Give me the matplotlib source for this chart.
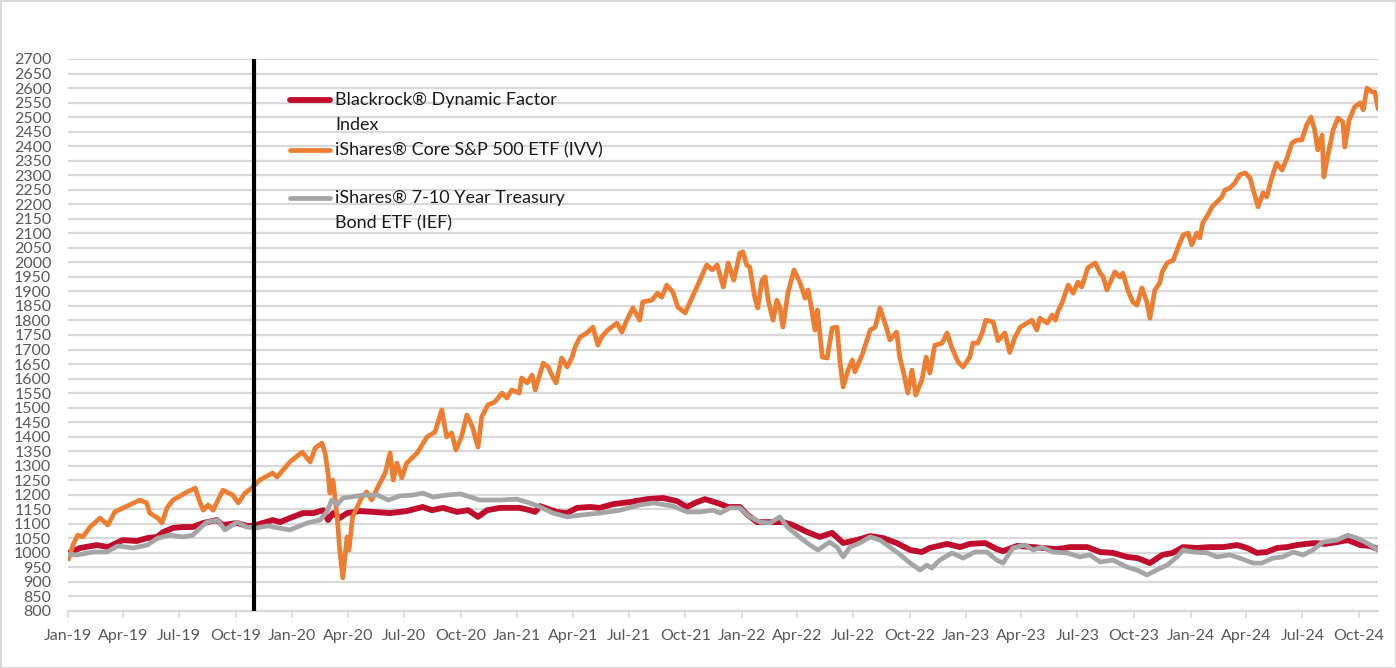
import matplotlib
matplotlib.use('Agg')
import matplotlib.pyplot as plt
import matplotlib.dates as mdates
import pandas as pd

plt.rcParams['font.family'] = ['Lato', 'DejaVu Sans']

# iShares Core S&P 500 ETF (IVV), growth of 1000
ivv_dates = [
    '2019-01-02', '2019-01-09', '2019-01-17', '2019-01-25', '2019-02-06', '2019-02-22', '2019-03-07', '2019-03-18',
    '2019-04-04', '2019-04-28', '2019-05-09', '2019-05-14', '2019-05-27', '2019-06-03', '2019-06-11', '2019-06-21',
    '2019-07-14', '2019-07-27', '2019-08-04', '2019-08-09', '2019-08-17', '2019-08-25', '2019-09-10', '2019-09-26',
    '2019-10-05', '2019-10-16', '2019-10-27', '2019-11-09', '2019-11-30', '2019-12-07', '2019-12-28',
    '2020-01-17', '2020-01-30', '2020-02-07', '2020-02-18', '2020-02-23', '2020-02-28', '2020-03-02', '2020-03-07',
    '2020-03-14', '2020-03-18', '2020-03-23', '2020-03-30', '2020-04-02', '2020-04-08', '2020-04-23', '2020-05-01',
    '2020-05-09', '2020-05-19', '2020-05-31', '2020-06-08', '2020-06-13', '2020-06-19', '2020-06-27', '2020-07-05',
    '2020-07-22', '2020-08-07', '2020-08-20', '2020-08-31', '2020-09-08', '2020-09-16', '2020-09-23', '2020-10-02',
    '2020-10-11', '2020-10-20', '2020-10-29', '2020-11-04', '2020-11-14', '2020-11-25', '2020-12-07', '2020-12-15',
    '2020-12-23',
    '2021-01-04', '2021-01-08', '2021-01-17', '2021-01-25', '2021-01-30', '2021-02-12', '2021-02-20', '2021-02-26',
    '2021-03-05', '2021-03-14', '2021-03-23', '2021-03-31', '2021-04-05', '2021-04-13', '2021-04-24', '2021-05-04',
    '2021-05-12', '2021-05-18', '2021-05-28', '2021-06-12', '2021-06-20', '2021-06-28', '2021-07-08', '2021-07-19',
    '2021-07-24', '2021-08-08', '2021-08-17', '2021-08-24', '2021-09-01', '2021-09-11', '2021-09-19', '2021-10-01',
    '2021-10-09', '2021-10-20', '2021-11-05', '2021-11-14', '2021-11-22', '2021-12-02', '2021-12-10', '2021-12-19',
    '2021-12-29',
    '2022-01-03', '2022-01-09', '2022-01-14', '2022-01-22', '2022-01-27', '2022-02-03', '2022-02-08', '2022-02-13',
    '2022-02-21', '2022-02-27', '2022-03-04', '2022-03-09', '2022-03-17', '2022-03-27', '2022-04-06', '2022-04-14',
    '2022-04-19', '2022-04-25', '2022-04-30', '2022-05-04', '2022-05-12', '2022-05-20', '2022-05-28', '2022-06-05',
    '2022-06-10', '2022-06-15', '2022-06-23', '2022-06-30', '2022-07-04', '2022-07-17', '2022-07-29', '2022-08-06',
    '2022-08-14', '2022-08-24', '2022-08-30', '2022-09-10', '2022-09-15', '2022-09-23', '2022-09-28', '2022-10-05',
    '2022-10-11', '2022-10-21', '2022-10-28', '2022-11-03', '2022-11-11', '2022-11-23', '2022-12-01', '2022-12-09',
    '2022-12-19', '2022-12-27',
    '2023-01-07', '2023-01-12', '2023-01-20', '2023-01-27', '2023-02-02', '2023-02-14', '2023-02-22', '2023-03-05',
    '2023-03-13', '2023-03-21', '2023-03-30', '2023-04-18', '2023-04-26', '2023-05-01', '2023-05-13', '2023-05-21',
    '2023-05-26', '2023-05-30', '2023-06-06', '2023-06-16', '2023-06-24', '2023-07-02', '2023-07-08', '2023-07-18',
    '2023-07-30', '2023-08-07', '2023-08-12', '2023-08-18', '2023-08-23', '2023-08-31', '2023-09-08', '2023-09-13',
    '2023-09-21', '2023-09-29', '2023-10-06', '2023-10-14', '2023-10-22', '2023-10-27', '2023-11-04', '2023-11-12',
    '2023-11-16', '2023-11-24', '2023-12-04', '2023-12-12', '2023-12-20', '2023-12-28',
    '2024-01-03', '2024-01-11', '2024-01-16', '2024-01-21', '2024-01-29', '2024-02-05', '2024-02-13', '2024-02-21',
    '2024-02-26', '2024-03-05', '2024-03-13', '2024-03-21', '2024-03-30', '2024-04-07', '2024-04-12', '2024-04-20',
    '2024-04-28', '2024-05-04', '2024-05-12', '2024-05-20', '2024-05-29', '2024-06-06', '2024-06-14', '2024-06-22',
    '2024-06-30', '2024-07-08', '2024-07-15', '2024-07-21', '2024-07-26', '2024-08-02', '2024-08-05', '2024-08-11',
    '2024-08-20', '2024-08-28', '2024-09-05', '2024-09-08', '2024-09-15', '2024-09-24', '2024-10-03', '2024-10-08',
    '2024-10-14', '2024-10-23', '2024-10-27', '2024-11-01',
]
ivv_vals = [
    980, 1027, 1061, 1055, 1089, 1120, 1096, 1141,
    1158, 1182, 1172, 1137, 1120, 1103, 1155, 1182,
    1210, 1223, 1172, 1147, 1165, 1147, 1216, 1199,
    1172, 1206, 1223, 1251, 1275, 1261, 1313,
    1347, 1313, 1361, 1378, 1347, 1275, 1206, 1251,
    1124, 1010, 914, 1055, 1010, 1124, 1192, 1210,
    1182, 1227, 1275, 1344, 1251, 1309, 1258, 1309,
    1344, 1399, 1416, 1492, 1399, 1413, 1354, 1399,
    1475, 1433, 1364, 1468, 1509, 1519, 1550, 1533,
    1561,
    1550, 1602, 1585, 1612, 1561, 1653, 1640, 1612,
    1585, 1671, 1640, 1674, 1709, 1743, 1757, 1777,
    1715, 1743, 1767, 1791, 1760, 1801, 1843, 1801,
    1864, 1870, 1894, 1880, 1922, 1898, 1846, 1826,
    1864, 1915, 1991, 1974, 1991, 1915, 1998, 1939,
    2032,
    2036, 1991, 1984, 1881, 1843, 1939, 1950, 1870,
    1801, 1870, 1846, 1777, 1894, 1974, 1929, 1877,
    1905, 1836, 1767, 1836, 1674, 1671, 1774, 1777,
    1653, 1571, 1629, 1664, 1623, 1688, 1767, 1777,
    1843, 1777, 1733, 1760, 1674, 1605, 1550, 1629,
    1543, 1595, 1674, 1619, 1715, 1722, 1757, 1705,
    1657, 1640,
    1674, 1722, 1722, 1757, 1801, 1795, 1730, 1757,
    1690, 1740, 1777, 1801, 1767, 1808, 1791, 1819,
    1801, 1829, 1860, 1922, 1894, 1932, 1915, 1981,
    1998, 1963, 1950, 1905, 1929, 1967, 1950, 1963,
    1905, 1864, 1853, 1912, 1864, 1808, 1905, 1929,
    1967, 1998, 2008, 2053, 2094, 2101,
    2060, 2101, 2084, 2136, 2163, 2191, 2208, 2225,
    2249, 2256, 2273, 2301, 2308, 2290, 2249, 2191,
    2239, 2225, 2290, 2342, 2318, 2359, 2411, 2421,
    2421, 2473, 2500, 2456, 2387, 2438, 2294, 2363,
    2456, 2497, 2483, 2397, 2490, 2535, 2549, 2525,
    2600, 2586, 2586, 2531,
]

# Blackrock Dynamic Factor Index
bdf_dates = [
    '2019-01-02', '2019-01-21', '2019-02-17', '2019-03-07', '2019-03-31', '2019-04-23', '2019-05-10', '2019-05-26',
    '2019-06-05', '2019-06-21', '2019-07-07', '2019-07-23', '2019-08-09', '2019-08-31', '2019-09-10', '2019-10-03',
    '2019-10-19', '2019-10-29', '2019-11-14', '2019-11-30', '2019-12-12', '2019-12-28',
    '2020-01-18', '2020-02-04', '2020-02-20', '2020-02-28', '2020-03-07', '2020-03-18', '2020-03-30', '2020-04-20',
    '2020-05-11', '2020-06-08', '2020-07-05', '2020-07-31', '2020-08-15', '2020-09-02', '2020-09-25', '2020-10-13',
    '2020-10-29', '2020-11-13', '2020-12-04',
    '2021-01-05', '2021-01-21', '2021-01-30', '2021-02-07', '2021-03-06', '2021-03-23', '2021-04-08', '2021-04-29',
    '2021-05-15', '2021-06-06', '2021-07-03', '2021-07-31', '2021-08-26', '2021-09-18', '2021-10-04', '2021-10-17',
    '2021-11-02', '2021-11-22', '2021-12-10', '2021-12-29',
    '2022-01-11', '2022-01-26', '2022-02-16', '2022-03-09', '2022-03-25', '2022-04-17', '2022-05-08', '2022-05-28',
    '2022-06-15', '2022-07-07', '2022-07-29', '2022-08-19', '2022-09-10', '2022-10-02', '2022-10-21', '2022-11-03',
    '2022-12-01', '2022-12-22',
    '2023-01-07', '2023-02-01', '2023-02-20', '2023-03-02', '2023-03-25', '2023-04-20', '2023-05-06', '2023-05-29',
    '2023-06-19', '2023-07-17', '2023-08-07', '2023-08-28', '2023-09-20', '2023-10-07', '2023-10-27', '2023-11-16',
    '2023-12-03', '2023-12-20',
    '2024-01-11', '2024-02-02', '2024-02-23', '2024-03-17', '2024-04-02', '2024-04-18', '2024-05-04', '2024-05-21',
    '2024-06-06', '2024-06-22', '2024-07-08', '2024-07-21', '2024-08-07', '2024-08-26', '2024-09-13', '2024-10-03',
    '2024-10-19', '2024-11-01',
]
bdf_vals = [
    1000, 1017, 1027, 1020, 1044, 1041, 1051, 1055,
    1072, 1086, 1089, 1089, 1103, 1113, 1096, 1103,
    1093, 1093, 1103, 1113, 1106, 1120,
    1137, 1137, 1147, 1113, 1137, 1120, 1137, 1144,
    1141, 1137, 1144, 1158, 1147, 1155, 1141, 1147,
    1124, 1147, 1155,
    1155, 1147, 1141, 1161, 1141, 1137, 1155, 1158,
    1155, 1168, 1175, 1185, 1189, 1178, 1158, 1172,
    1185, 1172, 1158, 1158,
    1130, 1106, 1106, 1106, 1096, 1072, 1055, 1069,
    1034, 1044, 1058, 1051, 1034, 1010, 1003, 1017,
    1031, 1020,
    1031, 1034, 1013, 1006, 1024, 1020, 1017, 1013,
    1020, 1020, 1003, 1000, 986, 982, 965, 993,
    1000, 1020,
    1017, 1020, 1020, 1027, 1017, 1000, 1003, 1017,
    1020, 1027, 1031, 1034, 1031, 1037, 1044, 1027,
    1024, 1013,
]

# iShares 7-10 Year Treasury Bond ETF (IEF)
ief_dates = [
    '2019-01-02', '2019-01-16', '2019-02-11', '2019-03-05', '2019-03-23', '2019-04-17', '2019-05-10', '2019-05-27',
    '2019-06-16', '2019-07-07', '2019-07-23', '2019-08-04', '2019-08-15', '2019-09-02', '2019-09-13', '2019-10-03',
    '2019-10-19', '2019-11-04', '2019-11-22', '2019-12-09', '2019-12-28',
    '2020-01-25', '2020-02-15', '2020-02-26', '2020-03-05', '2020-03-14', '2020-03-23', '2020-04-04', '2020-04-25',
    '2020-05-18', '2020-06-05', '2020-06-24', '2020-07-15', '2020-07-31', '2020-08-17', '2020-09-08', '2020-09-30',
    '2020-11-01', '2020-12-04', '2020-12-31',
    '2021-01-21', '2021-02-07', '2021-02-28', '2021-03-23', '2021-04-13', '2021-05-15', '2021-06-17', '2021-07-19',
    '2021-08-10', '2021-09-11', '2021-10-04', '2021-10-25', '2021-11-15', '2021-11-27', '2021-12-13', '2021-12-29',
    '2022-01-14', '2022-01-31', '2022-02-16', '2022-03-04', '2022-03-16', '2022-04-01', '2022-04-22', '2022-05-05',
    '2022-05-24', '2022-06-05', '2022-06-15', '2022-06-26', '2022-07-12', '2022-07-29', '2022-08-14', '2022-08-30',
    '2022-09-12', '2022-10-02', '2022-10-18', '2022-10-29', '2022-11-06', '2022-11-19', '2022-12-09', '2022-12-27',
    '2023-01-15', '2023-02-04', '2023-02-20', '2023-03-02', '2023-03-18', '2023-04-07', '2023-04-20', '2023-05-04',
    '2023-05-22', '2023-06-14', '2023-07-05', '2023-07-21', '2023-08-07', '2023-08-28', '2023-09-20', '2023-10-06',
    '2023-10-22', '2023-11-07', '2023-11-24', '2023-12-10', '2023-12-20',
    '2024-01-05', '2024-01-28', '2024-02-13', '2024-03-05', '2024-03-21', '2024-04-12', '2024-04-26', '2024-05-14',
    '2024-05-30', '2024-06-16', '2024-07-02', '2024-07-18', '2024-08-03', '2024-08-26', '2024-09-13', '2024-09-28',
    '2024-10-14', '2024-11-01',
]
ief_vals = [
    995, 993, 1003, 1003, 1024, 1017, 1027, 1051,
    1061, 1055, 1061, 1086, 1106, 1113, 1079, 1106,
    1089, 1086, 1093, 1086, 1079,
    1103, 1113, 1141, 1182, 1165, 1189, 1192, 1199,
    1199, 1182, 1196, 1199, 1206, 1192, 1199, 1203,
    1182, 1182, 1185,
    1172, 1158, 1137, 1124, 1130, 1137, 1147, 1165,
    1172, 1161, 1141, 1141, 1147, 1137, 1155, 1155,
    1124, 1106, 1103, 1124, 1089, 1061, 1027, 1010,
    1037, 1020, 986, 1020, 1034, 1055, 1044, 1020,
    1000, 965, 941, 958, 948, 975, 1000, 982,
    1003, 1003, 975, 965, 1017, 1027, 1010, 1020,
    1003, 1000, 986, 993, 969, 975, 951, 941,
    924, 941, 958, 986, 1010,
    1003, 1000, 986, 993, 982, 965, 965, 982,
    986, 1003, 993, 1010, 1037, 1044, 1061, 1051,
    1034, 1010,
]

marker_date = '2019-10-30'
y_ticks = list(range(800, 2701, 50))

labels = [
    ['Blackrock\u00ae Dynamic Factor', 'Index'],
    ['iShares\u00ae Core S&P 500 ETF (IVV)'],
    ['iShares\u00ae 7-10 Year Treasury', 'Bond ETF (IEF)'],
]
colors = ['#C00D2D', '#ED7D31', '#A5A5A5']

fig = plt.figure(figsize=(13.96, 6.68), dpi=100, edgecolor='#D9D9D9', linewidth=2)
ax = fig.add_axes([68 / 1396, 1 - 611 / 668, 1310 / 1396, 552 / 668])

ax.plot(pd.to_datetime(bdf_dates), bdf_vals, color=colors[0], lw=4.2, solid_joinstyle='round', zorder=3)
ax.plot(pd.to_datetime(ivv_dates), ivv_vals, color=colors[1], lw=3.4, solid_joinstyle='round', zorder=4)
ax.plot(pd.to_datetime(ief_dates), ief_vals, color=colors[2], lw=3.4, solid_joinstyle='round', zorder=5)

ax.axvline(pd.Timestamp(marker_date), color='black', lw=3, zorder=6)

ax.set_ylim(800, 2700)
ax.set_yticks(y_ticks)
ax.set_xlim(pd.Timestamp('2019-01-01'), pd.Timestamp('2024-11-01'))
ax.xaxis.set_major_locator(mdates.MonthLocator(bymonth=[1, 4, 7, 10]))
ax.xaxis.set_major_formatter(mdates.DateFormatter('%b-%y'))

ax.grid(axis='y', color='#D9D9D9', lw=1.6)
ax.set_axisbelow(True)
for s in ['top', 'right', 'left']:
    ax.spines[s].set_visible(False)
ax.spines['bottom'].set_color('#D9D9D9')
ax.spines['bottom'].set_linewidth(1.6)

ax.tick_params(axis='y', length=0, pad=12, labelsize=11.5, labelcolor='#595959')
ax.tick_params(axis='x', length=5, width=1.2, color='#D9D9D9', pad=8, labelsize=11.5, labelcolor='#595959')

# legend drawn by hand to keep Excel-style wrapped entries
handle_y = [0.9257, 0.8351, 0.7482]
handle_w = [4.2, 3.4, 3.4]
for lab, c, yy, w in zip(labels, colors, handle_y, handle_w):
    ax.plot([0.1695, 0.2], [yy, yy], transform=ax.transAxes, color=c, lw=w,
            solid_capstyle='round', zorder=7)
    for i, line in enumerate(lab):
        ax.text(0.2038, yy - i * 0.0460, line, transform=ax.transAxes, fontsize=13,
                color='#1A1A1A', va='center', ha='left', zorder=7)

fig.savefig('out.png', dpi=100)
